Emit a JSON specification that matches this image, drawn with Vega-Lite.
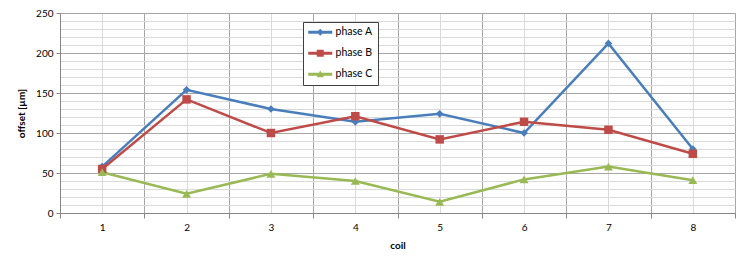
{
  "$schema": "https://vega.github.io/schema/vega-lite/v6.json",
  "width": 675,
  "height": 200,
  "autosize": {"type": "none"},
  "padding": {"left": 60, "top": 13, "right": 12, "bottom": 52},
  "background": "white",
  "config": {
    "view": {"stroke": null},
    "font": "Lato",
    "axis": {"labelFont": "Lato", "titleFont": "Lato", "labelColor": "#000", "titleColor": "#000"}
  },
  "data": {
    "values": [
      {"coil": 1, "phase": "phase A", "offset": 58},
      {"coil": 2, "phase": "phase A", "offset": 154},
      {"coil": 3, "phase": "phase A", "offset": 130},
      {"coil": 4, "phase": "phase A", "offset": 114},
      {"coil": 5, "phase": "phase A", "offset": 124},
      {"coil": 6, "phase": "phase A", "offset": 100},
      {"coil": 7, "phase": "phase A", "offset": 212},
      {"coil": 8, "phase": "phase A", "offset": 80},
      {"coil": 1, "phase": "phase B", "offset": 55},
      {"coil": 2, "phase": "phase B", "offset": 142},
      {"coil": 3, "phase": "phase B", "offset": 100},
      {"coil": 4, "phase": "phase B", "offset": 121},
      {"coil": 5, "phase": "phase B", "offset": 92},
      {"coil": 6, "phase": "phase B", "offset": 114},
      {"coil": 7, "phase": "phase B", "offset": 104},
      {"coil": 8, "phase": "phase B", "offset": 74},
      {"coil": 1, "phase": "phase C", "offset": 51},
      {"coil": 2, "phase": "phase C", "offset": 24},
      {"coil": 3, "phase": "phase C", "offset": 49},
      {"coil": 4, "phase": "phase C", "offset": 40},
      {"coil": 5, "phase": "phase C", "offset": 14},
      {"coil": 6, "phase": "phase C", "offset": 42},
      {"coil": 7, "phase": "phase C", "offset": 58},
      {"coil": 8, "phase": "phase C", "offset": 41}
    ]
  },
  "layer": [
    {
      "mark": {"type": "line", "strokeWidth": 2.5},
      "encoding": {
        "x": {
          "field": "coil", "type": "quantitative",
          "scale": {"domain": [0.5, 8.5], "nice": false, "zero": false},
          "axis": {
            "orient": "bottom",
            "values": [1, 2, 3, 4, 5, 6, 7, 8],
            "grid": true, "gridColor": "#d9d9d9", "gridWidth": 1,
            "ticks": false, "domain": false,
            "labelFontSize": 10, "labelPadding": 9,
            "title": "coil", "titleFontSize": 10, "titleFontWeight": "bold", "titlePadding": 8
          }
        },
        "y": {
          "field": "offset", "type": "quantitative",
          "scale": {"domain": [0, 250], "nice": false},
          "axis": {
            "orient": "left",
            "values": [0,10,20,30,40,50,60,70,80,90,100,110,120,130,140,150,160,170,180,190,200,210,220,230,240,250],
            "grid": true, "gridColor": "#d9d9d9", "gridWidth": 1,
            "labels": false, "ticks": false, "domain": false, "title": null
          }
        },
        "color": {
          "field": "phase", "type": "nominal",
          "scale": {"domain": ["phase A", "phase B", "phase C"], "range": ["#4a7ebb", "#be4b48", "#98b954"]},
          "legend": {
            "orient": "none", "legendX": 243, "legendY": 9,
            "title": null,
            "fillColor": "white", "strokeColor": "#404040", "padding": 5,
            "labelFontSize": 10.5, "labelFont": "Lato", "labelOffset": 17,
            "symbolSize": 100, "rowPadding": 10,
            "encode": {
              "symbols": {
                "update": {
                  "shape": {"signal": "datum.value === 'phase A' ? 'M-1,-0.28H3.8V0.28H-1Z M1.4,-0.72L2.12,0L1.4,0.72L0.68,0Z' : datum.value === 'phase B' ? 'M-1,-0.28H3.8V0.28H-1Z M0.7,-0.7H2.1V0.7H0.7Z' : 'M-1,-0.28H3.8V0.28H-1Z M1.4,-0.76L2.12,0.58H0.68Z'"},
                  "fill": {"scale": "color", "field": "value"},
                  "strokeWidth": {"value": 0},
                  "opacity": {"value": 1}
                }
              }
            }
          }
        }
      }
    },
    {
      "transform": [{"filter": "datum.phase === 'phase A'"}],
      "mark": {"type": "point", "filled": true, "opacity": 1, "shape": "diamond", "size": 60},
      "encoding": {
        "x": {
          "field": "coil", "type": "quantitative",
          "axis": {
            "orient": "bottom",
            "values": [0.5, 1.5, 2.5, 3.5, 4.5, 5.5, 6.5, 7.5, 8.5],
            "grid": true, "gridColor": "#a6a6a6", "gridWidth": 1,
            "labels": false, "ticks": true, "tickSize": 5, "tickColor": "#868686",
            "domain": true, "domainColor": "#868686", "title": null
          }
        },
        "y": {
          "field": "offset", "type": "quantitative",
          "axis": {
            "orient": "left",
            "values": [0, 50, 100, 150, 200, 250],
            "grid": true, "gridColor": "#a6a6a6", "gridWidth": 1,
            "ticks": true, "tickSize": 4, "tickColor": "#868686",
            "domain": true, "domainColor": "#868686",
            "labelFontSize": 10, "labelPadding": 3,
            "title": "offset [µm]", "titleFontSize": 10, "titleFontWeight": "bold", "titlePadding": 9
          }
        },
        "color": {"field": "phase", "type": "nominal"}
      }
    },
    {
      "transform": [{"filter": "datum.phase === 'phase B'"}],
      "mark": {"type": "point", "filled": true, "opacity": 1, "shape": "square", "size": 72},
      "encoding": {
        "x": {"field": "coil", "type": "quantitative", "axis": null},
        "y": {"field": "offset", "type": "quantitative", "axis": null},
        "color": {"field": "phase", "type": "nominal"}
      }
    },
    {
      "transform": [{"filter": "datum.phase === 'phase C'"}],
      "mark": {"type": "point", "filled": true, "opacity": 1, "shape": "triangle-up", "size": 80},
      "encoding": {
        "x": {"field": "coil", "type": "quantitative", "axis": null},
        "y": {"field": "offset", "type": "quantitative", "axis": null},
        "color": {"field": "phase", "type": "nominal"}
      }
    }
  ],
  "resolve": {"axis": {"x": "independent", "y": "independent"}}
}
